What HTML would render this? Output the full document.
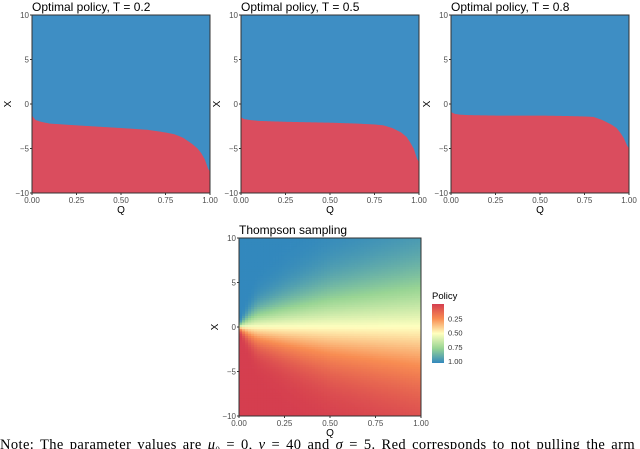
<!DOCTYPE html>
<html><head><meta charset="utf-8"><style>
body{margin:0;background:#fff;width:640px;height:449px;overflow:hidden;font-family:"Liberation Sans",sans-serif}
svg{position:absolute;left:0;top:0}
.note{position:absolute;left:0;top:437px;width:640px;height:12px;overflow:hidden;font-family:"Liberation Serif",serif;font-size:14.5px;line-height:17px;letter-spacing:0.4px;word-spacing:2px;white-space:nowrap;color:#000}
</style></head><body>
<svg id="s" width="640" height="449"></svg>
<div class="note">Note: The parameter values are <i>μ</i><sub style="font-size:9px">0</sub> = 0, <i>ν</i> = 40 and <i>σ</i> = 5. Red corresponds to not pulling the arm while</div>
<script>
// boundary data (X value below which policy = not pull), by Q
const bQ = [0,0.02,0.05,0.1,0.25,0.5,0.65,0.75,0.8,0.85,0.9,0.93,0.95,0.97,0.99,1.0];
const bT02 = [-1.3,-1.8,-2.0,-2.2,-2.4,-2.7,-2.9,-3.2,-3.4,-3.8,-4.5,-5.0,-5.5,-6.2,-7.3,-7.6];
const bT05 = [-1.5,-1.7,-1.8,-1.9,-2.0,-2.1,-2.2,-2.3,-2.4,-2.7,-3.2,-3.7,-4.3,-5.0,-6.2,-6.5];
const bT08 = [-0.9,-1.1,-1.2,-1.25,-1.3,-1.3,-1.35,-1.4,-1.45,-1.8,-2.3,-2.7,-3.2,-3.8,-4.7,-5.0];
// Thompson sampling: spread of the transition per Q
const tsQ = [0,0.05,0.1,0.25,0.5,0.75,1.0];
const tsSpread = [0.3,1.2,2.0,3.0,4.5,5.5,6.5];
const xTicks = ["0.00","0.25","0.50","0.75","1.00"];
const yTicks = [-10,-5,0,5,10];
const legTicks = ["0.25","0.50","0.75","1.00"];

const NS="http://www.w3.org/2000/svg";
const svg=document.getElementById('s');
function el(t,a,p){const e=document.createElementNS(NS,t);for(const k in a)e.setAttribute(k,a[k]);(p||svg).appendChild(e);return e;}
function interp(xs,ys,x){for(let i=1;i<xs.length;i++){if(x<=xs[i]){const t=(x-xs[i-1])/(xs[i]-xs[i-1]);return ys[i-1]+t*(ys[i]-ys[i-1]);}}return ys[ys.length-1];}
const stops=[[0,[213,62,79]],[0.25,[248,141,82]],[0.5,[255,255,191]],[0.75,[153,213,148]],[1,[50,136,189]]];
function col(v){v=Math.max(0,Math.min(1,v));for(let i=1;i<stops.length;i++){if(v<=stops[i][0]){const a=stops[i-1],b=stops[i];const t=(v-a[0])/(b[0]-a[0]);return 'rgb('+a[1].map((c,j)=>Math.round(c+t*(b[1][j]-c))).join(',')+')';}}}
function phi(z){const t=1/(1+0.2316419*Math.abs(z));const d=0.3989423*Math.exp(-z*z/2);const p=d*t*(0.3193815+t*(-0.3565638+t*(1.781478+t*(-1.821256+t*1.330274))));return z>0?1-p:p;}

function axes(g,x0,y0,w,h,title,name){
  const sx=q=>x0+q*w, sy=v=>y0+h-(v+10)/20*h;
  const t=el('text',{x:x0,y:y0-4,'font-size':12,fill:'#000'},g);t.textContent=title;
  
  el('rect',{x:x0,y:y0,width:w,height:h,fill:'none',stroke:'#333','stroke-width':1},g);
  xTicks.forEach((s,i)=>{const x=sx(i/4);el('line',{x1:x,x2:x,y1:y0+h,y2:y0+h+2,stroke:'#333'},g);
    const l=el('text',{x:x,y:y0+h+10,'font-size':8,fill:'#4d4d4d','text-anchor':'middle'},g);l.textContent=s;
    });
  yTicks.forEach(v=>{const y=sy(v);el('line',{x1:x0-2,x2:x0,y1:y,y2:y,stroke:'#333'},g);
    const l=el('text',{x:x0-3,y:y+3,'font-size':8,fill:'#4d4d4d','text-anchor':'end'},g);l.textContent=v<0?'−'+(-v):v;
    });
  const xt=el('text',{x:x0+w/2,y:y0+h+20,'font-size':10,'text-anchor':'middle'},g);xt.textContent='Q';
  
  const yt=el('text',{x:0,y:0,'font-size':10,'text-anchor':'middle',transform:`translate(${x0-21},${y0+h/2}) rotate(-90)`},g);yt.textContent='X';
  
  return {sx,sy};
}
function policyPanel(x0,y0,b,title,name){
  const g=el('g',{});
  const w=178,h=178;const sx=q=>x0+q*w, sy=v=>y0+h-(v+10)/20*h;
  const bg=el('rect',{x:x0,y:y0,width:w,height:h,fill:'#3e8ec4'},g);
  
  let d=`M${sx(0)},${sy(-10)}`;const N=200;
  for(let i=0;i<=N;i++){const q=i/N;d+=` L${sx(q).toFixed(2)},${sy(interp(bQ,b,q)).toFixed(2)}`;}
  d+=` L${sx(1)},${sy(-10)} Z`;
  const p=el('path',{d:d,fill:'#da4d5e'},g);
  
  axes(g,x0,y0,w,h,title,name);
}
policyPanel(32,15,bT02,'Optimal policy, T = 0.2','panel-t02');
policyPanel(241,15,bT05,'Optimal policy, T = 0.5','panel-t05');
policyPanel(451,15,bT08,'Optimal policy, T = 0.8','panel-t08');

(function(){
  const x0=239,y0=238,w=182,h=178;
  const g=el('g',{});
  const NC=60,NR=80;const cw=w/NC,rh=h/NR;
  for(let i=0;i<NC;i++){const q=(i+0.5)/NC;const s=interp(tsQ,tsSpread,q);
    for(let j=0;j<NR;j++){const xv=10-(j+0.5)*20/NR;const v=phi(xv/s);
      const r=el('rect',{x:(x0+i*cw).toFixed(2),y:(y0+j*rh).toFixed(2),width:(cw+0.4).toFixed(2),height:(rh+0.4).toFixed(2),fill:col(v)},g);
      
      }}
  axes(g,x0,y0,w,h,'Thompson sampling','panel-thompson');
  const lg=el('g',{});
  const lt=el('text',{x:432,y:299,'font-size':9.5},lg);lt.textContent='Policy';
  
  const defs=el('defs',{},lg);const gr=el('linearGradient',{id:'lgd',x1:0,y1:0,x2:0,y2:1},defs);
  stops.forEach(s=>el('stop',{offset:s[0],'stop-color':col(s[0])},gr));
  const bar=el('rect',{x:432,y:304,width:12,height:59,fill:'url(#lgd)'},lg);
  
  legTicks.forEach((s,i)=>{const y=304+ (i+1)*0.25*57;
    const l=el('text',{x:448,y:y+3,'font-size':7.5,fill:'#333'},lg);l.textContent=s;
    });
})();
</script>
</body></html>
